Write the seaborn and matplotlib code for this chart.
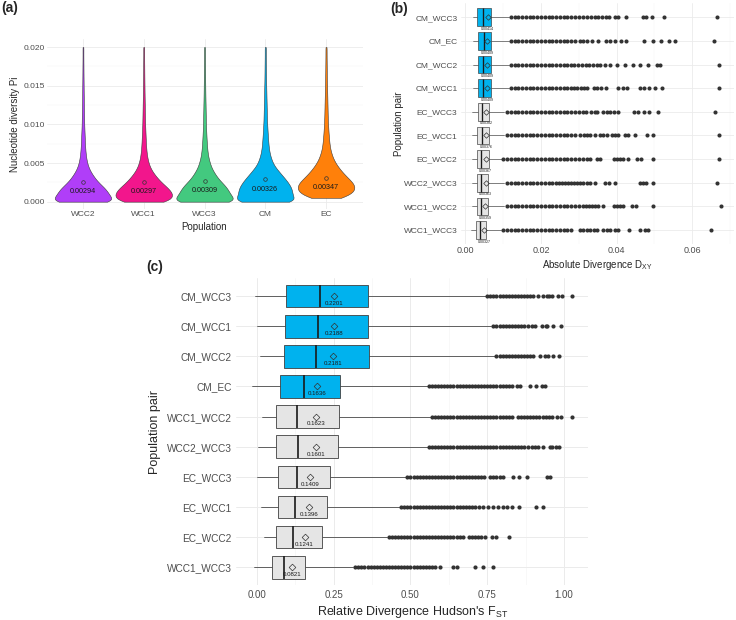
import numpy as np
import pandas as pd
import matplotlib
matplotlib.use("Agg")
import matplotlib.pyplot as plt
from matplotlib.ticker import FixedLocator, FixedFormatter
import seaborn as sns

# ---------------- panel (a) data ----------------
populations = ["WCC2", "WCC1", "WCC3", "CM", "EC"]
pi_means = [0.00294, 0.00297, 0.00309, 0.00326, 0.00347]
pi_colors = ["#B03EF8", "#F2168C", "#43C97F", "#00B2EE", "#FF800A"]
pi_grid = [0.0000, 0.0005, 0.0010, 0.0015, 0.0020, 0.0025, 0.0030, 0.0035, 0.0040, 0.0045,
           0.0050, 0.0055, 0.0060, 0.0065, 0.0070, 0.0075, 0.0080, 0.0085, 0.0090, 0.0095,
           0.0100, 0.0105, 0.0110, 0.0115, 0.0120, 0.0125, 0.0130, 0.0135, 0.0140, 0.0145,
           0.0150, 0.0155, 0.0160, 0.0165, 0.0170, 0.0175, 0.0180, 0.0185, 0.0190, 0.0195,
           0.0200]
pi_counts_WCC2 = [620, 420, 410, 375, 310, 240, 190, 150, 110, 85,
                  65, 55, 45, 40, 35, 32, 30, 27, 25, 22,
                  20, 19, 18, 17, 16, 15, 14, 13, 12, 11,
                  11, 10, 9, 9, 8, 8, 7, 7, 6, 6, 9]
pi_counts_WCC1 = [380, 420, 415, 380, 315, 250, 200, 155, 115, 88,
                  68, 56, 46, 40, 35, 32, 29, 27, 25, 22,
                  20, 19, 18, 17, 16, 15, 14, 13, 12, 11,
                  11, 10, 9, 9, 8, 8, 7, 7, 6, 6, 9]
pi_counts_WCC3 = [560, 370, 360, 330, 300, 235, 190, 150, 120, 90,
                  75, 60, 48, 42, 37, 33, 30, 27, 25, 22,
                  20, 19, 18, 17, 16, 15, 14, 13, 12, 11,
                  11, 10, 9, 9, 8, 8, 7, 7, 6, 6, 9]
pi_counts_CM = [450, 300, 310, 310, 290, 260, 225, 185, 150, 110,
                85, 70, 55, 47, 40, 36, 33, 30, 27, 25,
                22, 20, 19, 18, 17, 16, 15, 14, 13, 12,
                11, 10, 9, 9, 8, 8, 7, 7, 6, 6, 9]
pi_counts_EC = [0, 200, 300, 335, 340, 310, 260, 215, 175, 140,
                110, 85, 70, 55, 46, 40, 36, 32, 29, 26,
                24, 21, 20, 19, 18, 17, 16, 15, 14, 13,
                12, 11, 10, 9, 9, 8, 8, 7, 7, 6, 9]
pi_yticks = [0.000, 0.005, 0.010, 0.015, 0.020]
pi_yticklabels = ["0.000", "0.005", "0.010", "0.015", "0.020"]

# ---------------- panel (b) data ----------------
dxy_pairs = ["CM_WCC3", "CM_EC", "CM_WCC2", "CM_WCC1", "EC_WCC3",
             "EC_WCC1", "EC_WCC2", "WCC2_WCC3", "WCC1_WCC2", "WCC1_WCC3"]
dxy_lo = [0.0019, 0.0019, 0.0019, 0.0019, 0.0017, 0.0017, 0.0016, 0.0016, 0.0016, 0.0014]
dxy_q1 = [0.0031, 0.0034, 0.0032, 0.0032, 0.0032, 0.0031, 0.0030, 0.0030, 0.0030, 0.0027]
dxy_med = [0.0047, 0.0048, 0.0047, 0.0047, 0.0045, 0.0043, 0.0042, 0.0041, 0.0041, 0.0038]
dxy_q3 = [0.0068, 0.0068, 0.0067, 0.0067, 0.0061, 0.0061, 0.0061, 0.0060, 0.0060, 0.0054]
dxy_hi = [0.0115, 0.0114, 0.0116, 0.0116, 0.0103, 0.0103, 0.0098, 0.0103, 0.0103, 0.0094]
dxy_mean = [0.00414, 0.00409, 0.00409, 0.00409, 0.00382, 0.00376, 0.00367, 0.00363, 0.00359, 0.00327]
dxy_out_CM_WCC3 = [0.012, 0.013, 0.014, 0.015, 0.016, 0.017, 0.018, 0.019, 0.020, 0.021,
                   0.022, 0.023, 0.024, 0.025, 0.026, 0.027, 0.028, 0.029, 0.030, 0.031,
                   0.0322, 0.0332, 0.0342, 0.0352, 0.0362, 0.0372, 0.0380, 0.0396, 0.0405,
                   0.0425, 0.0469, 0.0478, 0.0493, 0.0526, 0.0665]
dxy_out_CM_EC = [0.012, 0.013, 0.014, 0.015, 0.016, 0.017, 0.018, 0.019, 0.020, 0.021,
                 0.022, 0.023, 0.024, 0.025, 0.026, 0.027, 0.028, 0.029,
                 0.0302, 0.0312, 0.0322, 0.0334, 0.0352, 0.0372, 0.0383, 0.0396, 0.0411,
                 0.0425, 0.0473, 0.0496, 0.0517, 0.0538, 0.0555, 0.0658]
dxy_out_CM_WCC2 = [0.012, 0.013, 0.014, 0.015, 0.016, 0.017, 0.018, 0.019, 0.020, 0.021,
                   0.022, 0.023, 0.024, 0.025, 0.026, 0.027, 0.028,
                   0.0288, 0.0298, 0.0308, 0.0318, 0.0328, 0.0338, 0.0348, 0.0356, 0.0370,
                   0.0383, 0.0401, 0.0422, 0.0444, 0.0463, 0.0484, 0.0508, 0.0515, 0.0670]
dxy_out_CM_WCC1 = [0.012, 0.013, 0.014, 0.015, 0.016, 0.017, 0.018, 0.019, 0.020, 0.021,
                   0.022, 0.023, 0.024, 0.025, 0.026, 0.027, 0.028,
                   0.0286, 0.0296, 0.0306, 0.0314, 0.0321, 0.0339, 0.0349, 0.0360, 0.0372,
                   0.0405, 0.0416, 0.0427, 0.0462, 0.0473, 0.0487, 0.0502, 0.0520, 0.0672]
dxy_out_EC_WCC3 = [0.011, 0.012, 0.013, 0.014, 0.015, 0.016, 0.017, 0.018, 0.019, 0.020,
                   0.021, 0.022, 0.023, 0.024, 0.025, 0.026, 0.027, 0.028, 0.029,
                   0.0300, 0.0310, 0.0320, 0.0332, 0.0343, 0.0349, 0.0365, 0.0374, 0.0383,
                   0.0392, 0.0405, 0.0445, 0.0458, 0.0473, 0.0487, 0.0511, 0.0660]
dxy_out_EC_WCC1 = [0.011, 0.012, 0.013, 0.014, 0.015, 0.016, 0.017, 0.018, 0.019, 0.020,
                   0.021, 0.022, 0.023, 0.024, 0.025, 0.026, 0.027, 0.028, 0.029,
                   0.0303, 0.0313, 0.0323, 0.0330, 0.0343, 0.0356, 0.0365, 0.0374, 0.0387,
                   0.0396, 0.0405, 0.0422, 0.0431, 0.0449, 0.0480, 0.0496, 0.0670]
dxy_out_EC_WCC2 = [0.010, 0.011, 0.012, 0.013, 0.014, 0.015, 0.016, 0.017, 0.018, 0.019,
                   0.020, 0.021, 0.022, 0.023, 0.024, 0.025, 0.026, 0.027, 0.028, 0.029,
                   0.030, 0.0312, 0.0321, 0.0330, 0.0348, 0.0356, 0.0392, 0.0401, 0.0409,
                   0.0418, 0.0431, 0.0453, 0.0466, 0.0497, 0.0670]
dxy_out_WCC2_WCC3 = [0.011, 0.012, 0.013, 0.014, 0.015, 0.016, 0.017, 0.018, 0.019, 0.020,
                     0.021, 0.022, 0.023, 0.024,
                     0.0248, 0.0256, 0.0264, 0.0272, 0.0280, 0.0288, 0.0296, 0.0304, 0.0312,
                     0.0321, 0.0331, 0.0343, 0.0370, 0.0381, 0.0396, 0.0462, 0.0469, 0.0478,
                     0.0496, 0.0667]
dxy_out_WCC1_WCC2 = [0.011, 0.012, 0.013, 0.014, 0.015, 0.016, 0.017, 0.018, 0.019, 0.020,
                     0.021, 0.022, 0.023, 0.024, 0.025, 0.026, 0.027, 0.028, 0.029, 0.030,
                     0.031, 0.032, 0.0328, 0.0336, 0.0344, 0.0352, 0.0365, 0.0392, 0.0401,
                     0.0410, 0.0418, 0.0440, 0.0452, 0.0496, 0.0676]
dxy_out_WCC1_WCC3 = [0.010, 0.011, 0.012, 0.013, 0.014, 0.015, 0.016, 0.017, 0.018, 0.019,
                     0.020, 0.021, 0.022, 0.023, 0.024, 0.025, 0.026, 0.027, 0.028,
                     0.0303, 0.0312, 0.0321, 0.0330, 0.0339, 0.0348, 0.0365, 0.0374, 0.0383,
                     0.0396, 0.0405, 0.0434, 0.0462, 0.0475, 0.0484, 0.0649]
dxy_outliers = [dxy_out_CM_WCC3, dxy_out_CM_EC, dxy_out_CM_WCC2, dxy_out_CM_WCC1,
                dxy_out_EC_WCC3, dxy_out_EC_WCC1, dxy_out_EC_WCC2, dxy_out_WCC2_WCC3,
                dxy_out_WCC1_WCC2, dxy_out_WCC1_WCC3]
dxy_xticks = [0.00, 0.02, 0.04, 0.06]
dxy_xticklabels = ["0.00", "0.02", "0.04", "0.06"]

# ---------------- panel (c) data ----------------
fst_pairs = ["CM_WCC3", "CM_WCC1", "CM_WCC2", "CM_EC", "WCC1_WCC2",
             "WCC2_WCC3", "EC_WCC3", "EC_WCC1", "EC_WCC2", "WCC1_WCC3"]
fst_lo = [-0.005, 0.001, 0.010, -0.015, 0.017, 0.002, 0.000, 0.014, 0.024, -0.009]
fst_q1 = [0.095, 0.091, 0.087, 0.076, 0.063, 0.063, 0.067, 0.067, 0.062, 0.050]
fst_med = [0.205, 0.200, 0.193, 0.153, 0.130, 0.135, 0.131, 0.125, 0.116, 0.089]
fst_q3 = [0.360, 0.360, 0.364, 0.269, 0.267, 0.265, 0.237, 0.229, 0.211, 0.156]
fst_hi = [0.745, 0.762, 0.775, 0.556, 0.567, 0.560, 0.488, 0.466, 0.425, 0.312]
fst_mean = [0.2201, 0.2188, 0.2181, 0.1636, 0.1623, 0.1601, 0.1409, 0.1396, 0.1241, 0.0821]
fst_out_CM_WCC3 = [0.75, 0.76, 0.77, 0.78, 0.79, 0.80, 0.81, 0.82, 0.83, 0.84, 0.85, 0.86,
                   0.87, 0.88, 0.89, 0.90, 0.916, 0.933, 0.944, 0.952, 0.960, 0.981, 0.992,
                   1.025]
fst_out_CM_WCC1 = [0.77, 0.78, 0.79, 0.80, 0.81, 0.82, 0.83, 0.84, 0.85, 0.86, 0.87,
                   0.884, 0.895, 0.905, 0.927, 0.941, 0.946, 0.965, 0.989]
fst_out_CM_WCC2 = [0.78, 0.79, 0.80, 0.81, 0.82, 0.83, 0.84, 0.85, 0.86, 0.87, 0.88, 0.89,
                   0.90, 0.922, 0.938, 0.949, 0.965, 0.985]
fst_out_CM_EC = [0.56, 0.57, 0.58, 0.59, 0.60, 0.61, 0.62, 0.63, 0.64, 0.65, 0.66, 0.67,
                 0.68, 0.69, 0.70, 0.71, 0.72, 0.73, 0.74, 0.75, 0.76, 0.77, 0.78, 0.79,
                 0.80, 0.81, 0.82, 0.830, 0.846, 0.857, 0.889, 0.909, 0.927, 0.938]
fst_out_WCC1_WCC2 = [0.57, 0.58, 0.59, 0.60, 0.61, 0.62, 0.63, 0.64, 0.65, 0.66, 0.67, 0.68,
                     0.69, 0.70, 0.71, 0.72, 0.73, 0.74, 0.75, 0.76, 0.77, 0.78, 0.79, 0.80,
                     0.81, 0.82, 0.83, 0.85, 0.86, 0.87, 0.88, 0.89, 0.90, 0.91, 0.92, 0.93,
                     0.94, 0.95, 0.96, 0.976, 0.989, 1.027]
fst_out_WCC2_WCC3 = [0.56, 0.57, 0.58, 0.59, 0.60, 0.61, 0.62, 0.63, 0.64, 0.65, 0.66, 0.67,
                     0.68, 0.69, 0.70, 0.71, 0.72, 0.73, 0.74, 0.75, 0.76, 0.77, 0.78, 0.79,
                     0.80, 0.81, 0.82, 0.83, 0.84, 0.85, 0.86, 0.87, 0.884, 0.895, 0.905,
                     0.916, 0.933, 0.954, 0.962, 0.975, 0.983]
fst_out_EC_WCC3 = [0.49, 0.50, 0.51, 0.52, 0.53, 0.54, 0.55, 0.56, 0.57, 0.58, 0.59, 0.60,
                   0.61, 0.62, 0.63, 0.64, 0.65, 0.66, 0.67, 0.68, 0.69, 0.70, 0.71, 0.72,
                   0.73, 0.74, 0.76, 0.77, 0.78, 0.79, 0.80, 0.835, 0.854, 0.880, 0.944, 0.954]
fst_out_EC_WCC1 = [0.47, 0.48, 0.49, 0.50, 0.51, 0.52, 0.53, 0.54, 0.55, 0.56, 0.57, 0.58,
                   0.59, 0.60, 0.61, 0.62, 0.63, 0.64, 0.65, 0.66, 0.67, 0.68, 0.69, 0.70,
                   0.71, 0.724, 0.737, 0.753, 0.770, 0.786, 0.802, 0.815, 0.830, 0.853,
                   0.908, 0.930]
fst_out_EC_WCC2 = [0.43, 0.44, 0.45, 0.46, 0.47, 0.48, 0.49, 0.50, 0.51, 0.52, 0.53, 0.54,
                   0.55, 0.56, 0.57, 0.58, 0.59, 0.60, 0.61, 0.62, 0.63, 0.64, 0.65, 0.66,
                   0.67, 0.69, 0.70, 0.71, 0.72, 0.73, 0.743, 0.764, 0.779, 0.822]
fst_out_WCC1_WCC3 = [0.32, 0.33, 0.34, 0.35, 0.36, 0.37, 0.38, 0.39, 0.40, 0.41, 0.42, 0.43,
                     0.44, 0.45, 0.46, 0.47, 0.48, 0.49, 0.50, 0.51, 0.52, 0.53, 0.54, 0.55,
                     0.56, 0.57, 0.58, 0.596, 0.640, 0.652, 0.710, 0.735, 0.770]
fst_outliers = [fst_out_CM_WCC3, fst_out_CM_WCC1, fst_out_CM_WCC2, fst_out_CM_EC,
                fst_out_WCC1_WCC2, fst_out_WCC2_WCC3, fst_out_EC_WCC3, fst_out_EC_WCC1,
                fst_out_EC_WCC2, fst_out_WCC1_WCC3]
fst_xticks = [0.00, 0.25, 0.50, 0.75, 1.00]
fst_xticklabels = ["0.00", "0.25", "0.50", "0.75", "1.00"]

# ---------------- style ----------------
sns.set_theme(style="whitegrid")
plt.rcParams["font.family"] = ["Liberation Sans", "DejaVu Sans"]
plt.rcParams["mathtext.default"] = "regular"

W, H = 736, 620
fig = plt.figure(figsize=(W / 100, H / 100), dpi=100)
fig.patch.set_facecolor("white")

TICK_C = "#4D4D4D"
GRID_MAJ = "#EBEBEB"
GRID_MIN = "#F3F3F3"
HIGHLIGHT = "#00B2EE"
GREY_FILL = "#E5E5E5"


def px_axes(x0, y0, x1, y1):
    return fig.add_axes([x0 / W, 1 - y1 / H, (x1 - x0) / W, (y1 - y0) / H])


def ftext(x, y, s, **kw):
    fig.text(x / W, 1 - y / H, s, ha="center", va="center", **kw)


def clean(ax):
    for sp in ax.spines.values():
        sp.set_visible(False)
    ax.set_facecolor("white")
    ax.set_xlabel("")
    ax.set_ylabel("")


# ================= panel (a) =================
axA = px_axes(46.5, 39.3, 362.5, 209.4)
frames = []
for pop, counts in zip(populations, [pi_counts_WCC2, pi_counts_WCC1, pi_counts_WCC3,
                                     pi_counts_CM, pi_counts_EC]):
    frames.append(pd.DataFrame({"Population": pop,
                                "Pi": np.repeat(np.array(pi_grid), counts)}))
df_pi = pd.concat(frames, ignore_index=True)
sns.violinplot(data=df_pi, x="Population", y="Pi", hue="Population", order=populations,
               hue_order=populations, palette=dict(zip(populations, pi_colors)),
               cut=0, bw_method=0.13, density_norm="area", inner=None, saturation=1,
               width=0.93, linewidth=0.4, linecolor="#3A3A3A", legend=False, ax=axA)
clean(axA)
axA.set_ylim(-0.001, 0.021)
axA.set_xlim(-0.6, 4.6)
axA.yaxis.set_major_locator(FixedLocator(pi_yticks))
axA.yaxis.set_major_formatter(FixedFormatter(pi_yticklabels))
axA.yaxis.set_minor_locator(FixedLocator([0.0025, 0.0075, 0.0125, 0.0175]))
axA.grid(True, which="major", color=GRID_MAJ, lw=0.6)
axA.grid(True, which="minor", axis="y", color=GRID_MIN, lw=0.35)
axA.set_axisbelow(True)
axA.tick_params(axis="both", length=0, labelsize=6, labelcolor=TICK_C)
axA.tick_params(axis="y", pad=1.2)
axA.tick_params(axis="x", pad=1.5)
nudge_a = -0.00037
for i, m in enumerate(pi_means):
    axA.plot(i, m + nudge_a, marker="o", ms=2.6, mfc="none", mec="#333333", mew=0.5, zorder=5)
    axA.annotate(f"{m:.5f}", (i, m + nudge_a), xytext=(0, -7.2), textcoords="offset points",
                 ha="center", va="center", fontsize=5.2, color="#1A1A1A", zorder=6)
ftext(15, 124, "Nucleotide diversity Pi", rotation=90, fontsize=7)
ftext(204.5, 227, "Population", fontsize=7)
ftext(10, 8, "(a)", fontsize=10, fontweight="bold")


# ================= box panels =================
def box_panel(ax, labels, lo, q1, med, q3, hi, outliers, means, nudge, lw_scale,
              flier_ms, mean_ms, label_dy, label_fs):
    n = len(labels)
    stats = []
    for i in range(n):
        stats.append(dict(label=labels[i], whislo=lo[i], q1=q1[i], med=med[i], q3=q3[i],
                          whishi=hi[i], fliers=np.array(outliers[i])))
    kw = dict(positions=list(range(n)), widths=0.75, patch_artist=True, showcaps=False,
              showfliers=True, manage_ticks=False,
              boxprops=dict(edgecolor="#404040", linewidth=0.6 * lw_scale),
              whiskerprops=dict(color="#3A3A3A", linewidth=0.55 * lw_scale),
              medianprops=dict(color="#1A1A1A", linewidth=1.2 * lw_scale),
              flierprops=dict(marker="o", markerfacecolor="#333333",
                              markeredgecolor="none", markersize=flier_ms))
    try:
        res = ax.bxp(stats, orientation="horizontal", **kw)
    except TypeError:
        res = ax.bxp(stats, vert=False, **kw)
    for i, b in enumerate(res["boxes"]):
        b.set_facecolor(HIGHLIGHT if labels[i].startswith("CM_") else GREY_FILL)
        b.set_zorder(3)
    for m in res["medians"]:
        m.set_zorder(4)
    for i, m in enumerate(means):
        ax.plot(m + nudge, i, marker="D", ms=mean_ms, mfc="none", mec="#333333",
                mew=0.5, zorder=5)
        ax.annotate(f"{m}", (m + nudge, i), xytext=(0, -label_dy), textcoords="offset points",
                    ha="center", va="center", fontsize=label_fs, color="#1A1A1A", zorder=6)
    ax.set_ylim(n - 0.4, -0.6)
    ax.set_yticks(list(range(n)))
    ax.set_yticklabels(labels)


# ================= panel (b) =================
axB = px_axes(461, 3.1, 734, 244.2)
clean(axB)
box_panel(axB, dxy_pairs, dxy_lo, dxy_q1, dxy_med, dxy_q3, dxy_hi, dxy_outliers,
          dxy_mean, 0.0017, 0.8, 2.95, 2.8, 8.4, 2.6)
axB.set_xlim(-0.00119, 0.0711)
axB.xaxis.set_major_locator(FixedLocator(dxy_xticks))
axB.xaxis.set_major_formatter(FixedFormatter(dxy_xticklabels))
axB.xaxis.set_minor_locator(FixedLocator([0.01, 0.03, 0.05, 0.07]))
axB.grid(True, which="major", color=GRID_MAJ, lw=0.6)
axB.grid(True, which="minor", axis="x", color=GRID_MIN, lw=0.35)
axB.set_axisbelow(True)
axB.tick_params(axis="both", length=0, labelcolor=TICK_C)
axB.tick_params(axis="y", labelsize=6, pad=2.6)
axB.tick_params(axis="x", labelsize=6.5, pad=1.5)
ftext(398.5, 124, "Population pair", rotation=90, fontsize=7)
ftext(597.5, 265, r"Absolute Divergence D$_{XY}$", fontsize=7)
ftext(399.5, 9, "(b)", fontsize=10, fontweight="bold")

# ================= panel (c) =================
axC = px_axes(236.4, 278, 588, 585.4)
clean(axC)
box_panel(axC, fst_pairs, fst_lo, fst_q1, fst_med, fst_q3, fst_hi, fst_outliers,
          fst_mean, 0.031, 1.0, 3.0, 3.4, 5.3, 4.4)
axC.set_xlim(-0.0671, 1.0782)
axC.xaxis.set_major_locator(FixedLocator(fst_xticks))
axC.xaxis.set_major_formatter(FixedFormatter(fst_xticklabels))
axC.xaxis.set_minor_locator(FixedLocator([0.125, 0.375, 0.625, 0.875]))
axC.grid(True, which="major", color=GRID_MAJ, lw=0.7)
axC.grid(True, which="minor", axis="x", color=GRID_MIN, lw=0.4)
axC.set_axisbelow(True)
axC.tick_params(axis="both", length=0, labelcolor=TICK_C)
axC.tick_params(axis="y", labelsize=7.3, pad=3.3)
axC.tick_params(axis="x", labelsize=7, pad=3.3)
ftext(155, 431.7, "Population pair", rotation=90, fontsize=9)
ftext(412.2, 612, r"Relative Divergence Hudson's F$_{ST}$", fontsize=9)
ftext(155, 267, "(c)", fontsize=10, fontweight="bold")

fig.savefig("out.png", dpi=100, facecolor="white")
